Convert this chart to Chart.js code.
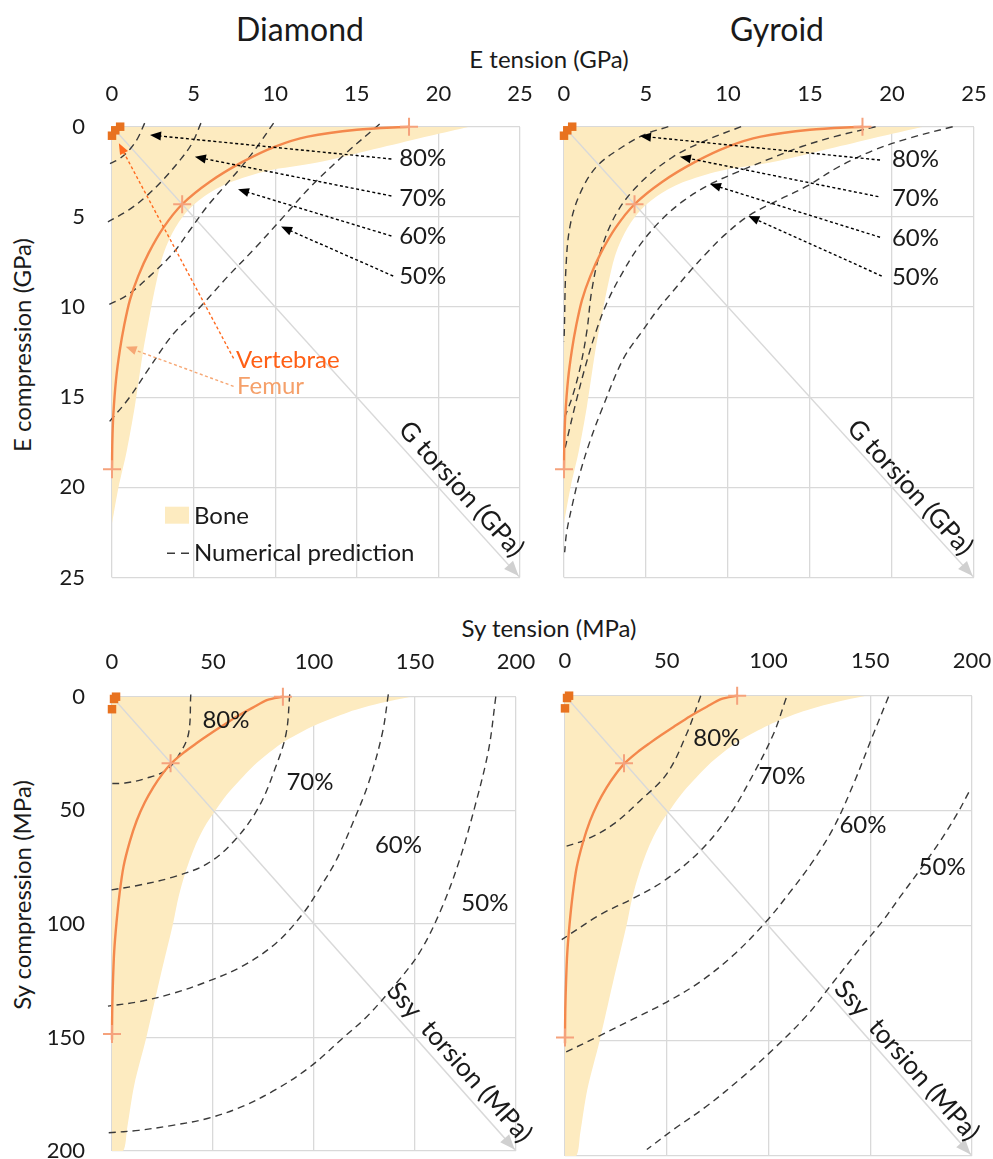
<!DOCTYPE html>
<html><head><meta charset="utf-8">
<script src="https://cdn.jsdelivr.net/npm/chart.js@4.4.0/dist/chart.umd.min.js"></script>
<style>
html,body{margin:0;padding:0;background:#fff;}
body{width:993px;height:1159px;position:relative;overflow:hidden;font-family:Lato,'Open Sans',sans-serif;color:#1a1a1a;}
canvas{position:absolute;}
.t{position:absolute;white-space:nowrap;transform:translate(-50%,-50%);line-height:1;}
.r{transform:translate(-50%,-50%) rotate(-90deg);}
</style></head><body>
<div class="t" style="left:300px;top:29px;font-size:32px">Diamond</div>
<div class="t" style="left:777px;top:29px;font-size:32px">Gyroid</div>
<div class="t" style="left:549px;top:59px;font-size:24px">E tension (GPa)</div>
<div class="t" style="left:549px;top:628px;font-size:24px">Sy tension (MPa)</div>
<div class="t r" style="left:22px;top:345px;font-size:24px">E compression (GPa)</div>
<div class="t r" style="left:22px;top:895px;font-size:24px">Sy compression (MPa)</div>
<canvas id="cTL" width="545" height="540" style="left:0;top:60px"></canvas>
<canvas id="cTR" width="448" height="540" style="left:545px;top:60px"></canvas>
<canvas id="cBL" width="545" height="550" style="left:0;top:630px"></canvas>
<canvas id="cBR" width="448" height="550" style="left:545px;top:630px"></canvas>
<script>
// ---------------- data ----------------
const eTicks = [0, 5, 10, 15, 20, 25];
const syTicks = [0, 50, 100, 150, 200];
const diagE = [[0, 0], [25, 25]];
const diagSy = [[0, 0], [200, 200]];

// Bone envelope (filled towards the axes)
const boneE = [[0,22],[0.4,20],[0.9,18],[1.4,15.5],[1.9,12.5],[2.3,10.5],[2.7,8.7],[3.1,7.2],[3.7,5.9],[4.5,4.8],[5.6,3.9],[7.2,3.1],[9.5,2.45],[12.5,2.0],[16.5,1.15],[19.5,0.5],[21.9,0]];
const boneSy = [[0,200],[5.5,200],[7.5,190],[11,171],[17,150],[23.6,124.5],[30.2,100],[33,88],[36.5,77],[41.5,65],[46,57],[50.5,51],[57,43],[63,37],[70,30.5],[78,24.5],[86,19.4],[100,12.8],[117,6.8],[133,2.8],[148,0]];

// Femur curve and measured points (tension, torsion, compression)
const femurE = [[18.2,0],[15,0.17],[12,0.55],[10,1.1],[8,1.95],[6,3.05],[4.3,4.3],[3.15,5.6],[2.25,7.0],[1.6,8.3],[1.1,9.6],[0.75,11],[0.48,12.4],[0.25,14],[0.08,16],[0.02,17.5],[0,19]];
const femurEPts = [[18.2,0],[4.3,4.3],[0,19]];
const vertE = [[0.5,0],[0,0.5],[0.2,0.2]];
const femurSy = [[84.6,0],[77,1.4],[69.7,4.8],[61.5,8.9],[53.3,13.6],[47.5,17],[41.8,20.5],[35.5,24.6],[29.5,29.2],[24.8,34.2],[20.5,39.8],[16.2,46.6],[12.3,54.4],[8.8,63.8],[5.7,74.8],[3.7,87],[2.2,99.7],[1.1,112],[0.5,124.7],[0.15,136],[0,148],[0,151]];
const femurSyPts = [[84.6,0],[29,29.3],[0,148.5]];
const vertSy = [[2,0],[0,5.5],[1,1]];

// Numerical predictions - Diamond, E
const dE80 = [[2.0,-0.2],[1.6,0.6],[1.1,1.25],[0.5,1.75],[-0.25,2.1]];
const dE70 = [[5.45,-0.2],[4.9,0.93],[4.17,1.85],[3.11,2.96],[2.06,3.89],[1.01,4.63],[-0.25,5.28]];
const dE60 = [[9.9,-0.2],[8.9,1.1],[7.95,2.2],[6.9,3.3],[5.85,4.4],[4.8,5.7],[3.75,7.0],[2.3,8.3],[1.0,9.3],[-0.25,9.9]];
const dE50 = [[16.4,-0.15],[14.3,1.5],[12.2,3.3],[10.5,5.0],[8.8,6.7],[7.1,8.3],[5.4,10.0],[3.75,11.5],[2.27,13.4],[1.0,15.1],[-0.2,16.4]];
// Numerical predictions - Gyroid, E
const gE80 = [[6.36,0],[5.0,0.4],[3.6,1.1],[2.0,2.2],[0.98,3.7],[0.37,5.5],[0.12,7.8],[0.02,11.3],[0,11.9]];
const gE70 = [[10.8,0],[8.7,0.74],[6.67,1.66],[4.63,3.14],[3.2,4.8],[2.2,7.0],[1.69,9.1],[1.4,11.3],[1.0,13.3],[0.5,15],[0,16.2]];
const gE60 = [[19,0],[16.5,0.55],[14.5,1.1],[12.5,1.8],[10.6,2.5],[8.9,3.2],[7.3,4.1],[5.9,5.2],[4.6,6.6],[3.5,8.2],[2.6,9.8],[1.9,11.5],[1.3,13.3],[0.75,15.2],[0.3,16.9],[0,18.1]];
const gE50 = [[23.7,0],[21,0.65],[18.9,1.3],[16.8,2.2],[14.8,3.3],[13,4.1],[11.24,4.95],[9.8,6],[8.7,7.0],[7.6,8.1],[6.67,9.1],[5.75,10.1],[4.8,11.3],[3.6,12.9],[2.3,15.7],[1.6,17.4],[0.98,19.2],[0.5,21],[0.16,22.5],[0.04,23.6]];
// Numerical predictions - Diamond, Sy
const dSy80 = [[39,-1],[37.9,16.2],[33.6,25],[26.8,32.4],[16.6,36],[6.5,38],[-2,38.2]];
const dSy70 = [[88,-1],[86.2,16.2],[81,31],[72.7,48.5],[60.8,63.2],[47.2,73.5],[30.2,79.4],[13.2,83],[-2,85.3]];
const dSy60 = [[136.8,-1],[133.8,16.2],[127,38],[119,56],[111,72],[103,84],[94.7,95.3],[81.2,108.5],[64.2,118.8],[47.2,125.4],[30.2,130.6],[13.2,134.3],[-2,136.2]];
const dSy50 = [[190,0],[186.4,23.5],[179.6,48.5],[172,72],[163,93.5],[152,113],[139,128],[126,141],[115,149.7],[98,163],[81,173],[64,180.6],[47.2,185.7],[30,188.7],[13.2,190.9],[-2,192]];
// Numerical predictions - Gyroid, Sy
const gSy80 = [[66.7,0],[59.8,16.5],[50,34],[36.9,45.6],[23.8,55.8],[10.7,62.4],[-1.6,66]];
const gSy70 = [[108.7,1],[102.5,16.5],[92.6,34],[81.1,51.5],[66.4,67.5],[48.4,80.6],[33.6,88],[17.2,95.2],[-1.6,106]];
const gSy60 = [[159,0.4],[151.6,16.5],[141.8,38.3],[132,57.3],[121,73],[110,86],[99,98],[82.8,112.7],[66.4,124.3],[50,133.1],[33.6,140.4],[17.2,147.7],[-1.6,155.7]];
const gSy50 = [[198.4,42],[192.6,51.5],[184.4,63.1],[175,75],[165,87],[156,98],[145,109.8],[132,124.3],[118.9,138.9],[102.5,153.5],[86,166.6],[69.7,178.3],[53.3,188.5],[40.2,197.2]];

const pctLabels = ['80%', '70%', '60%', '50%'];

// ---------------- styles ----------------
const FONT = "Lato, 'Open Sans', sans-serif";
const TXT = '#1a1a1a';
const GRID = '#d9d9d9';
const BONE = '#fdebc0';
const FEMUR = '#f4884c';
const FEMUR_MK = '#f5a27c';
const VERT = '#e8721f';
const DASH = '#3a3a3a';

const pts = a => a.map(p => ({x: p[0], y: p[1]}));

function head(ctx, x, y, ang, len, hw, color) {
  ctx.save(); ctx.translate(x, y); ctx.rotate(ang);
  ctx.beginPath(); ctx.moveTo(0, 0); ctx.lineTo(-len, -hw); ctx.lineTo(-len, hw); ctx.closePath();
  ctx.fillStyle = color; ctx.fill(); ctx.restore();
}
function arrow(ctx, x1, y1, x2, y2, color, dash, w, len, hw) {
  const ang = Math.atan2(y2 - y1, x2 - x1);
  ctx.save(); ctx.strokeStyle = color; ctx.lineWidth = w; ctx.setLineDash(dash);
  ctx.beginPath(); ctx.moveTo(x1, y1); ctx.lineTo(x2 - Math.cos(ang) * len * 0.7, y2 - Math.sin(ang) * len * 0.7); ctx.stroke();
  ctx.restore();
  head(ctx, x2, y2, ang, len, hw, color);
}
function text(ctx, s, x, y, size, color, align) {
  ctx.font = size + 'px ' + FONT; ctx.fillStyle = color; ctx.textAlign = align || 'center'; ctx.textBaseline = 'middle';
  ctx.fillText(s, x, y);
}

function deco(cfg) {
  return {
    id: 'deco_' + cfg.canvas,
    afterDatasetsDraw(chart) {
      const ctx = chart.ctx, a = chart.chartArea, X = chart.scales.x, Y = chart.scales.y;
      const px = v => X.getPixelForValue(v), py = v => Y.getPixelForValue(v);
      ctx.save();
      const x0 = px(cfg.diag[0][0]), y0 = py(cfg.diag[0][1]), x1 = px(cfg.diag[1][0]), y1 = py(cfg.diag[1][1]);
      const ang = Math.atan2(y1 - y0, x1 - x0);
      head(ctx, x1 - 2 * Math.cos(ang), y1 - 2 * Math.sin(ang), ang, 15, 6, '#d0d0d0');
      ctx.save(); ctx.translate(px(cfg.axisLbl[0]), py(cfg.axisLbl[1])); ctx.rotate(ang);
      text(ctx, cfg.axisText, 0, 0, 26, TXT); ctx.restore();
      cfg.pct.forEach((p, i) => text(ctx, pctLabels[i], px(p[0]), py(p[1]), 24, TXT));
      (cfg.arrows || []).forEach(r => arrow(ctx, px(r[0]), py(r[1]), px(r[2]), py(r[3]), '#000', [3, 2.5], 1.4, 11, 4.5));
      if (cfg.legend) {
        const L = a.left, T = a.top;
        ctx.fillStyle = BONE; ctx.fillRect(L + 53, T + 380, 24, 17);
        text(ctx, 'Bone', L + 82, T + 389.5, 24, TXT, 'left');
        ctx.save(); ctx.strokeStyle = DASH; ctx.lineWidth = 1.4; ctx.setLineDash([8, 6]);
        ctx.beginPath(); ctx.moveTo(L + 55, T + 426.5); ctx.lineTo(L + 78, T + 426.5); ctx.stroke(); ctx.restore();
        text(ctx, 'Numerical prediction', L + 82, T + 426.5, 24, TXT, 'left');
        arrow(ctx, px(7.45), py(12.85), px(0.42), py(0.92), '#ff6a1f', [3, 2.5], 1.4, 11, 4.5);
        arrow(ctx, px(7.45), py(14.4), px(0.84), py(12.2), '#f6a774', [3, 2.5], 1.4, 11, 4.5);
        text(ctx, 'Vertebrae', px(7.6), py(12.95), 24, '#ff5f15', 'left');
        text(ctx, 'Femur', px(7.66), py(14.4), 24, '#f5a06a', 'left');
      }
      ctx.restore();
    }
  };
}

function panel(cfg) {
  const datasets = [
    {data: pts(cfg.bone), showLine: true, fill: {value: 0}, backgroundColor: BONE, borderWidth: 0, pointRadius: 0, tension: 0.3, order: 10},
    {data: pts(cfg.diag), showLine: true, borderColor: '#d9d9d9', borderWidth: 1.5, pointRadius: 0, order: 9},
  ];
  cfg.curves.forEach(c => datasets.push({data: pts(c), showLine: true, borderColor: DASH, borderWidth: 1.4, borderDash: [7, 5], pointRadius: 0, tension: 0.35, clip: 12, order: 5}));
  datasets.push({data: pts(cfg.femur), showLine: true, borderColor: FEMUR, borderWidth: 2.4, pointRadius: 0, tension: 0.3, clip: 6, order: 2});
  datasets.push({data: pts(cfg.femurPts), showLine: false, pointStyle: 'cross', pointRadius: 9, borderColor: FEMUR_MK, borderWidth: 2, clip: false, order: 1});
  datasets.push({data: pts(cfg.vert), showLine: false, pointStyle: 'rect', pointRadius: 6, backgroundColor: VERT, borderColor: VERT, borderWidth: 0, clip: false, order: 0});
  const tickFont = {family: FONT, size: 22};
  return new Chart(document.getElementById(cfg.canvas), {
    type: 'scatter',
    data: {datasets},
    options: {
      responsive: false, animation: false, events: [],
      layout: {autoPadding: false, padding: {left: 0, top: 0, right: cfg.padR, bottom: cfg.padB}},
      plugins: {legend: {display: false}, tooltip: {enabled: false}},
      scales: {
        x: {type: 'linear', position: 'top', min: 0, max: cfg.max,
            afterBuildTicks: s => { s.ticks = cfg.ticks.map(v => ({value: v})); },
            ticks: {font: tickFont, color: TXT, padding: cfg.xPad, maxRotation: 0, autoSkip: false},
            grid: {color: GRID, lineWidth: 1.3, drawTicks: false}, border: {display: false},
            afterFit: s => { s.height = cfg.top; s.paddingLeft = 0; s.paddingRight = 0; }},
        y: {type: 'linear', position: 'left', reverse: true, min: 0, max: cfg.max,
            afterBuildTicks: s => { s.ticks = cfg.ticks.map(v => ({value: v})); },
            ticks: {display: cfg.yLabels, font: tickFont, color: TXT, padding: 27, autoSkip: false},
            grid: {color: GRID, lineWidth: 1.3, drawTicks: false}, border: {display: false},
            afterFit: s => { s.width = cfg.left; s.paddingTop = 0; s.paddingBottom = 0; }}
      }
    },
    plugins: [deco(cfg)]
  });
}

panel({canvas: 'cTL', max: 25, ticks: eTicks, top: 66.7, left: 112, padR: 25, padB: 22.5, xPad: 20, yLabels: true,
  bone: boneE, diag: diagE, femur: femurE, femurPts: femurEPts, vert: vertE, curves: [dE80, dE70, dE60, dE50],
  pct: [[19.04,1.74],[19.04,3.96],[19.04,6.1],[19.04,8.3]],
  arrows: [[17.12,1.79,2.33,0.46],[17.12,3.84,5.08,1.67],[17.12,6.06,7.72,3.47],[17.23,8.28,10.36,5.54]],
  axisText: 'G torsion (GPa)', axisLbl: [21.4, 20.1], legend: true});
panel({canvas: 'cTR', max: 25, ticks: eTicks, top: 66.7, left: 19, padR: 19, padB: 22.5, xPad: 20, yLabels: false,
  bone: boneE, diag: diagE, femur: femurE, femurPts: femurEPts, vert: vertE, curves: [gE80, gE70, gE60, gE50],
  pct: [[21.43,1.79],[21.43,3.95],[21.43,6.17],[21.43,8.33]],
  arrows: [[19.27,1.85,4.63,0.52],[19.17,3.88,7.07,1.66],[19.27,6.13,8.9,3.18],[19.37,8.28,11.24,4.95]],
  axisText: 'G torsion (GPa)', axisLbl: [21.1, 20.0], legend: false});
panel({canvas: 'cBL', max: 200, ticks: syTicks, top: 66.7, left: 112, padR: 29, padB: 29, xPad: 22, yLabels: true,
  bone: boneSy, diag: diagSy, femur: femurSy, femurPts: femurSyPts, vert: vertSy, curves: [dSy80, dSy70, dSy60, dSy50],
  pct: [[56.4,10.3],[98,37.5],[141.8,65.5],[184.6,90.8]],
  axisText: 'Ssy  torsion (MPa)', axisLbl: [172, 161], legend: false});
panel({canvas: 'cBR', max: 200, ticks: syTicks, top: 65.7, left: 20, padR: 21, padB: 24, xPad: 22, yLabels: false,
  bone: boneSy, diag: diagSy, femur: femurSy, femurPts: femurSyPts, vert: vertSy, curves: [gSy80, gSy70, gSy60, gSy50],
  pct: [[74.6,18.3],[106.6,35.2],[146.4,56.2],[185.3,74.5]],
  axisText: 'Ssy  torsion (MPa)', axisLbl: [168, 158.5], legend: false});
</script>
</body></html>
